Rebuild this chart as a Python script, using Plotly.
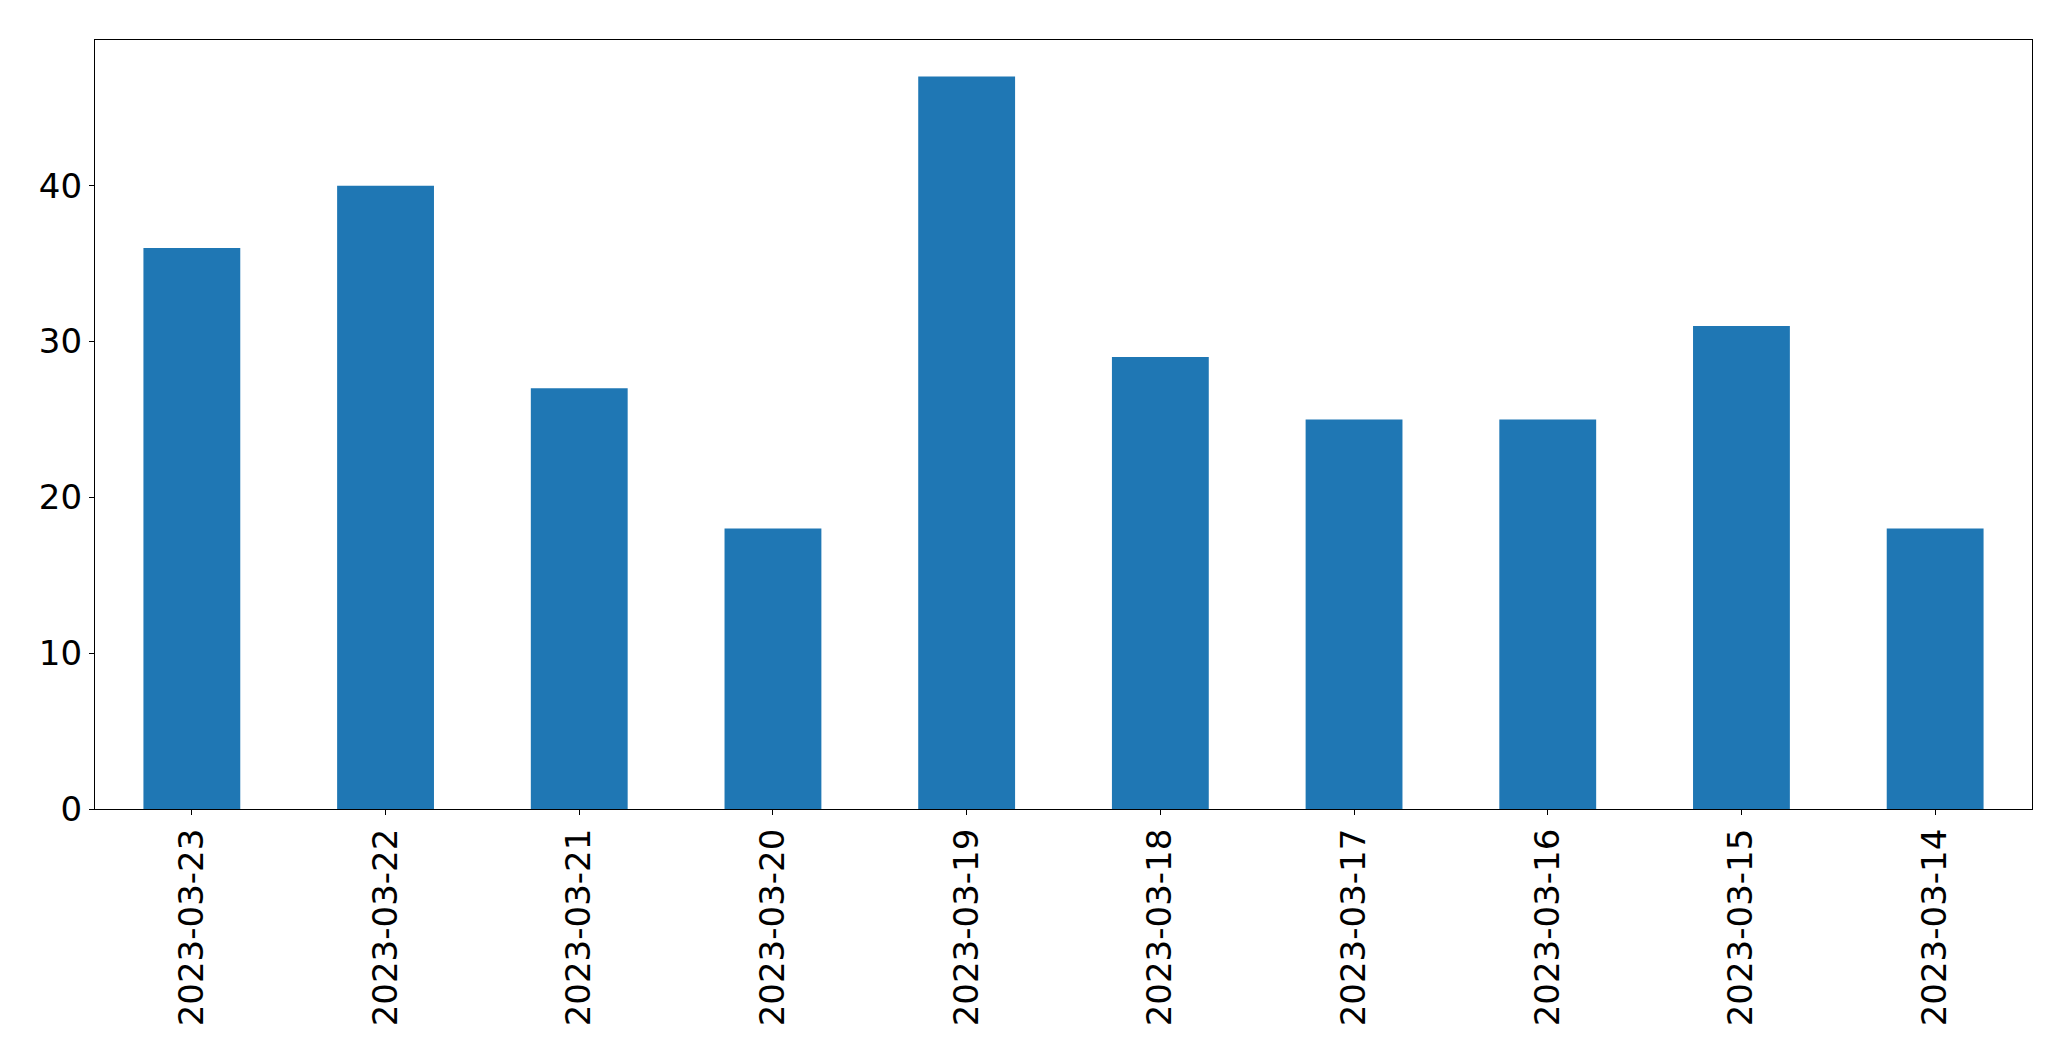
import plotly.graph_objects as go

dates = ["2023-03-23", "2023-03-22", "2023-03-21", "2023-03-20", "2023-03-19",
         "2023-03-18", "2023-03-17", "2023-03-16", "2023-03-15", "2023-03-14"]
counts = [36, 40, 27, 18, 47, 29, 25, 25, 31, 18]
y_ticks = [0, 10, 20, 30, 40]

fig = go.Figure(go.Bar(x=dates, y=counts, marker=dict(color="#1f77b4", line=dict(width=0)), width=0.5))

font = dict(family="DejaVu Sans", size=34, color="black")
# page body has an 8px default margin; compensate so the plot lands where the reference has it
fig.update_layout(
    width=2063, height=1053,
    margin=dict(l=86.5, r=39.3, t=31.5, b=251.7, pad=0),
    paper_bgcolor="white", plot_bgcolor="white",
    showlegend=False, bargap=0.5,
    font=font,
)
fig.update_xaxes(
    type="category", range=[-0.5, len(dates) - 0.5],
    showline=True, mirror=True, linecolor="black", linewidth=1.2,
    ticks="outside", ticklen=5, tickwidth=1.2, tickcolor="black",
    tickangle=-90, tickfont=font, showgrid=False, zeroline=False,
)
fig.update_yaxes(
    range=[0, max(counts) * 1.05], tickvals=y_ticks,
    showline=True, mirror=True, linecolor="black", linewidth=1.2,
    ticks="outside", ticklen=5, tickwidth=1.2, tickcolor="black",
    tickfont=font, showgrid=False, zeroline=False,
)
fig.write_html("out.html")
